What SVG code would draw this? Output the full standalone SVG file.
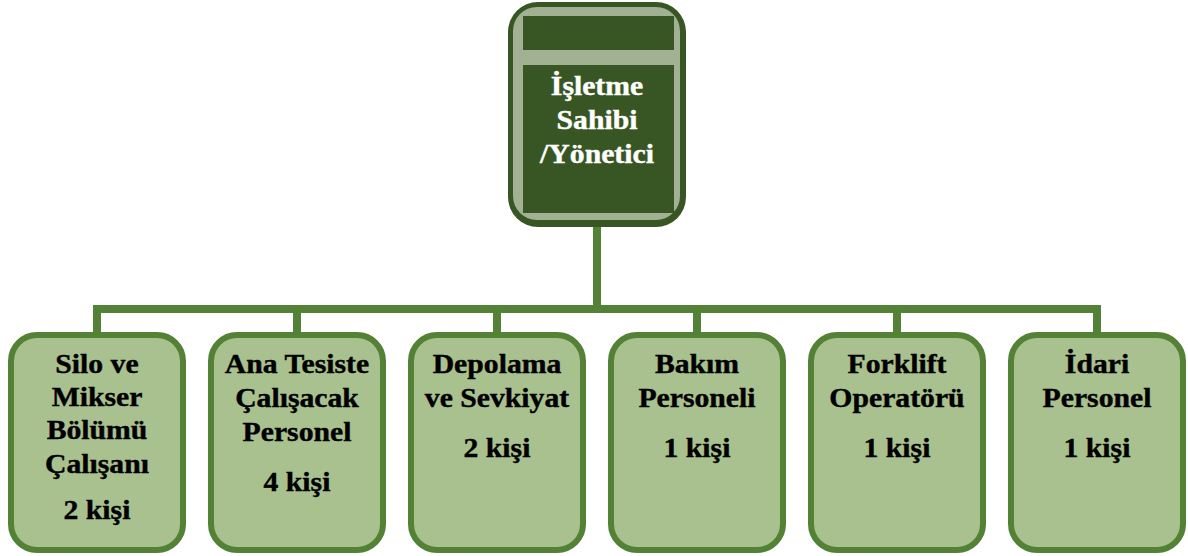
<svg xmlns="http://www.w3.org/2000/svg" width="1188" height="556" viewBox="0 0 1188 556">
<style>
.conn{stroke:#538135;stroke-width:8;fill:none;stroke-linecap:butt}
.box{fill:#a9c08f;stroke:#538135;stroke-width:6}
.t{font-family:"Liberation Serif","Times New Roman",serif;font-weight:bold;font-size:27px;text-anchor:middle;fill:#000;stroke:#000;stroke-width:0.4}
.w{fill:#ffffff;stroke:#ffffff}
</style>
<rect width="1188" height="556" fill="#ffffff"/>
<g id="connectors">
<path class="conn" d="M597,226 V309"/>
<path class="conn" d="M93,309 H1101"/>
<path class="conn" d="M97,305 V336 M297,305 V336 M497,305 V336 M697,305 V336 M897,305 V336 M1097,305 V336"/>
</g>
<g id="node-owner">
<rect x="508" y="2" width="178" height="225" rx="30" fill="#375623"/>
<rect x="513" y="7" width="167" height="213" rx="24" fill="#a2b094"/>
<rect x="523" y="16" width="151" height="34" fill="#375623"/>
<rect x="523" y="65" width="151" height="148" fill="#375623"/>
<g transform="translate(597,0) scale(1.1,1)">
<text class="t w" x="0" y="95">İşletme</text>
<text class="t w" x="0" y="129">Sahibi</text>
<text class="t w" x="0" y="163">/Yönetici</text>
</g>
</g>
<g id="node-silo">
<rect class="box" x="11" y="335" width="172" height="215" rx="26"/>
<g transform="translate(97,0) scale(1.1,1)">
<text class="t" x="0" y="373">Silo ve</text>
<text class="t" x="0" y="406">Mikser</text>
<text class="t" x="0" y="439">Bölümü</text>
<text class="t" x="0" y="473">Çalışanı</text>
<text class="t" x="0" y="519">2 kişi</text>
</g>
</g>
<g id="node-ana">
<rect class="box" x="211" y="335" width="172" height="215" rx="26"/>
<g transform="translate(297,0) scale(1.1,1)">
<text class="t" x="0" y="373">Ana Tesiste</text>
<text class="t" x="0" y="407">Çalışacak</text>
<text class="t" x="0" y="441">Personel</text>
<text class="t" x="0" y="491">4 kişi</text>
</g>
</g>
<g id="node-depolama">
<rect class="box" x="411" y="335" width="172" height="215" rx="26"/>
<g transform="translate(497,0) scale(1.1,1)">
<text class="t" x="0" y="373">Depolama</text>
<text class="t" x="0" y="407">ve Sevkiyat</text>
<text class="t" x="0" y="457">2 kişi</text>
</g>
</g>
<g id="node-bakim">
<rect class="box" x="611" y="335" width="172" height="215" rx="26"/>
<g transform="translate(697,0) scale(1.1,1)">
<text class="t" x="0" y="373">Bakım</text>
<text class="t" x="0" y="407">Personeli</text>
<text class="t" x="0" y="457">1 kişi</text>
</g>
</g>
<g id="node-forklift">
<rect class="box" x="811" y="335" width="172" height="215" rx="26"/>
<g transform="translate(897,0) scale(1.1,1)">
<text class="t" x="0" y="373">Forklift</text>
<text class="t" x="0" y="407">Operatörü</text>
<text class="t" x="0" y="457">1 kişi</text>
</g>
</g>
<g id="node-idari">
<rect class="box" x="1011" y="335" width="172" height="215" rx="26"/>
<g transform="translate(1097,0) scale(1.1,1)">
<text class="t" x="0" y="373">İdari</text>
<text class="t" x="0" y="407">Personel</text>
<text class="t" x="0" y="457">1 kişi</text>
</g>
</g>
</svg>
